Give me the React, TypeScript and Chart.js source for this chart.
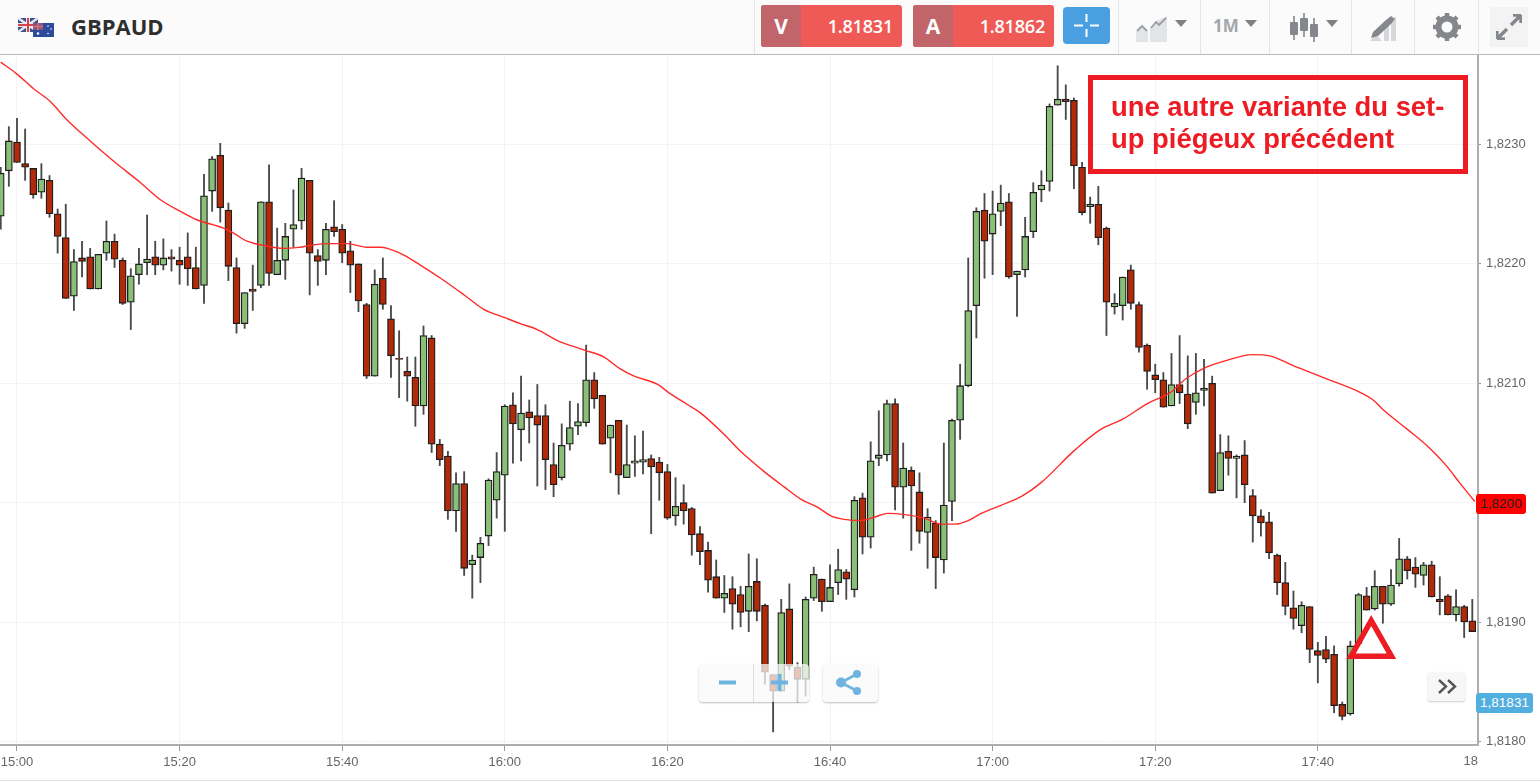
import React, { useEffect, useRef } from 'react';
import { Chart, registerables } from 'chart.js';

Chart.register(...registerables);

// one candle per minute, index 0 is two minutes before 15:00
const firstMinute = -2;

const opens = [
  1.82240, 1.82278, 1.82302, 1.82284, 1.82280, 1.82260, 1.82270, 1.82242, 1.82222, 1.82173,
  1.82205, 1.82206, 1.82179, 1.82209, 1.82219, 1.82203, 1.82168, 1.82191, 1.82201, 1.82206,
  1.82199, 1.82206, 1.82203, 1.82206, 1.82197, 1.82182, 1.82261, 1.82291, 1.82245, 1.82197,
  1.82150, 1.82179, 1.82182, 1.82252, 1.82191, 1.82203, 1.82229, 1.82236, 1.82270, 1.82207,
  1.82203, 1.82231, 1.82229, 1.82211, 1.82200, 1.82166, 1.82106, 1.82188, 1.82154, 1.82121,
  1.82110, 1.82105, 1.82081, 1.82138, 1.82049, 1.82039, 1.81993, 1.82016, 1.81948, 1.81954,
  1.81972, 1.82002, 1.82023, 1.82082, 1.82061, 1.82076, 1.82073, 1.82073, 1.82032, 1.82021,
  1.82049, 1.82064, 1.82067, 1.82103, 1.82090, 1.82054, 1.82069, 1.82021, 1.82033, 1.82034,
  1.82037, 1.82034, 1.82026, 1.81989, 1.82000, 1.81995, 1.81974, 1.81960, 1.81938, 1.81920,
  1.81928, 1.81923, 1.81909, 1.81934, 1.81914, 1.81856, 1.81842, 1.81911, 1.81862, 1.81852,
  1.81920, 1.81936, 1.81917, 1.81933, 1.81942, 1.81927, 1.82004, 1.81971, 1.82037, 1.82040,
  1.82083, 1.82013, 1.82027, 1.82009, 1.81975, 1.81983, 1.81952, 1.82001, 1.82069, 1.82098,
  1.82165, 1.82245, 1.82225, 1.82244, 1.82252, 1.82191, 1.82195, 1.82227, 1.82262, 1.82269,
  1.82333, 1.82338, 1.82337, 1.82281, 1.82248, 1.82250, 1.82230, 1.82164, 1.82165, 1.82195,
  1.82166, 1.82132, 1.82107, 1.82103, 1.82081, 1.82099, 1.82091, 1.82084, 1.82094, 1.82100,
  1.82010, 1.82043, 1.82037, 1.82040, 1.82006, 1.81989, 1.81984, 1.81956, 1.81933, 1.81912,
  1.81897, 1.81913, 1.81876, 1.81877, 1.81873, 1.81831, 1.81823, 1.81882, 1.81922, 1.81911,
  1.81930, 1.81915, 1.81932, 1.81953, 1.81946, 1.81939, 1.81948, 1.81919, 1.81922, 1.81906,
  1.81913, 1.81901,
];
const highs = [
  1.82281, 1.82315, 1.82322, 1.82313, 1.82280, 1.82284, 1.82274, 1.82246, 1.82250, 1.82212,
  1.82219, 1.82213, 1.82208, 1.82236, 1.82225, 1.82205, 1.82196, 1.82213, 1.82241, 1.82219,
  1.82221, 1.82212, 1.82214, 1.82226, 1.82214, 1.82275, 1.82290, 1.82301, 1.82251, 1.82205,
  1.82176, 1.82199, 1.82252, 1.82283, 1.82230, 1.82234, 1.82262, 1.82280, 1.82270, 1.82212,
  1.82234, 1.82253, 1.82233, 1.82219, 1.82200, 1.82167, 1.82195, 1.82205, 1.82165, 1.82144,
  1.82122, 1.82122, 1.82148, 1.82140, 1.82053, 1.82043, 1.82025, 1.82026, 1.81956, 1.81971,
  1.82020, 1.82042, 1.82082, 1.82092, 1.82106, 1.82086, 1.82099, 1.82082, 1.82050, 1.82066,
  1.82085, 1.82083, 1.82132, 1.82109, 1.82090, 1.82065, 1.82069, 1.82065, 1.82056, 1.82060,
  1.82040, 1.82038, 1.82032, 1.82021, 1.82015, 1.81996, 1.81980, 1.81967, 1.81952, 1.81939,
  1.81938, 1.81930, 1.81957, 1.81953, 1.81915, 1.81856, 1.81919, 1.81932, 1.81866, 1.81921,
  1.81946, 1.81936, 1.81948, 1.81961, 1.81944, 1.82005, 1.82008, 1.82051, 1.82077, 1.82086,
  1.82087, 1.82050, 1.82030, 1.82025, 1.81995, 1.81985, 1.82050, 1.82070, 1.82116, 1.82205,
  1.82247, 1.82259, 1.82261, 1.82266, 1.82259, 1.82194, 1.82239, 1.82268, 1.82278, 1.82334,
  1.82366, 1.82350, 1.82339, 1.82285, 1.82256, 1.82265, 1.82231, 1.82175, 1.82189, 1.82199,
  1.82168, 1.82133, 1.82116, 1.82109, 1.82125, 1.82140, 1.82123, 1.82125, 1.82120, 1.82106,
  1.82057, 1.82056, 1.82040, 1.82052, 1.82011, 1.81994, 1.81992, 1.81957, 1.81950, 1.81926,
  1.81917, 1.81913, 1.81883, 1.81888, 1.81880, 1.81833, 1.81884, 1.81924, 1.81929, 1.81943,
  1.81930, 1.81944, 1.81970, 1.81955, 1.81954, 1.81950, 1.81951, 1.81938, 1.81923, 1.81927,
  1.81914, 1.81919,
];
const lows = [
  1.82229, 1.82265, 1.82285, 1.82270, 1.82255, 1.82255, 1.82239, 1.82209, 1.82171, 1.82161,
  1.82189, 1.82179, 1.82179, 1.82203, 1.82197, 1.82166, 1.82145, 1.82183, 1.82191, 1.82191,
  1.82195, 1.82194, 1.82183, 1.82182, 1.82179, 1.82167, 1.82244, 1.82235, 1.82186, 1.82142,
  1.82146, 1.82161, 1.82180, 1.82182, 1.82191, 1.82187, 1.82214, 1.82229, 1.82174, 1.82182,
  1.82191, 1.82223, 1.82201, 1.82176, 1.82160, 1.82104, 1.82106, 1.82162, 1.82105, 1.82088,
  1.82085, 1.82064, 1.82074, 1.82042, 1.82031, 1.81986, 1.81976, 1.81939, 1.81920, 1.81933,
  1.81964, 1.81987, 1.81976, 1.82033, 1.82035, 1.82050, 1.82014, 1.82011, 1.82005, 1.82019,
  1.82044, 1.82057, 1.82064, 1.82079, 1.82049, 1.82025, 1.82007, 1.82021, 1.82022, 1.82024,
  1.81974, 1.82002, 1.81986, 1.81981, 1.81982, 1.81956, 1.81948, 1.81925, 1.81920, 1.81908,
  1.81894, 1.81896, 1.81892, 1.81901, 1.81848, 1.81808, 1.81842, 1.81860, 1.81833, 1.81838,
  1.81918, 1.81909, 1.81917, 1.81923, 1.81919, 1.81921, 1.81957, 1.81962, 1.82031, 1.82035,
  1.81994, 1.81987, 1.81960, 1.81966, 1.81945, 1.81928, 1.81941, 1.81985, 1.82053, 1.82097,
  1.82138, 1.82188, 1.82191, 1.82232, 1.82188, 1.82156, 1.82189, 1.82222, 1.82252, 1.82261,
  1.82333, 1.82321, 1.82263, 1.82241, 1.82234, 1.82216, 1.82140, 1.82158, 1.82153, 1.82162,
  1.82126, 1.82095, 1.82092, 1.82080, 1.82081, 1.82083, 1.82062, 1.82074, 1.82081, 1.82008,
  1.82010, 1.82023, 1.82004, 1.82000, 1.81967, 1.81972, 1.81953, 1.81923, 1.81906, 1.81894,
  1.81891, 1.81866, 1.81849, 1.81866, 1.81824, 1.81818, 1.81822, 1.81881, 1.81910, 1.81910,
  1.81899, 1.81914, 1.81930, 1.81936, 1.81929, 1.81931, 1.81921, 1.81906, 1.81906, 1.81901,
  1.81887, 1.81892,
];
const closes = [
  1.82276, 1.82303, 1.82285, 1.82281, 1.82258, 1.82271, 1.82242, 1.82223, 1.82171, 1.82202,
  1.82202, 1.82179, 1.82208, 1.82219, 1.82204, 1.82167, 1.82190, 1.82200, 1.82204, 1.82199,
  1.82205, 1.82204, 1.82199, 1.82196, 1.82179, 1.82257, 1.82288, 1.82247, 1.82198, 1.82150,
  1.82176, 1.82177, 1.82252, 1.82192, 1.82203, 1.82223, 1.82233, 1.82272, 1.82209, 1.82202,
  1.82229, 1.82227, 1.82209, 1.82199, 1.82169, 1.82106, 1.82183, 1.82166, 1.82123, 1.82120,
  1.82106, 1.82081, 1.82140, 1.82049, 1.82036, 1.81993, 1.82016, 1.81945, 1.81952, 1.81966,
  1.82019, 1.82026, 1.82081, 1.82066, 1.82075, 1.82071, 1.82065, 1.82036, 1.82015, 1.82048,
  1.82063, 1.82068, 1.82103, 1.82087, 1.82049, 1.82065, 1.82023, 1.82032, 1.82035, 1.82036,
  1.82030, 1.82025, 1.81987, 1.81997, 1.81993, 1.81973, 1.81959, 1.81935, 1.81920, 1.81924,
  1.81915, 1.81908, 1.81930, 1.81909, 1.81858, 1.81842, 1.81908, 1.81863, 1.81852, 1.81919,
  1.81940, 1.81917, 1.81929, 1.81944, 1.81936, 1.82002, 1.81971, 1.82035, 1.82040, 1.82083,
  1.82013, 1.82029, 1.82014, 1.81976, 1.81988, 1.81954, 1.81998, 1.82069, 1.82098, 1.82161,
  1.82244, 1.82219, 1.82242, 1.82251, 1.82189, 1.82194, 1.82223, 1.82260, 1.82266, 1.82332,
  1.82338, 1.82336, 1.82282, 1.82243, 1.82250, 1.82222, 1.82168, 1.82167, 1.82189, 1.82167,
  1.82130, 1.82110, 1.82103, 1.82080, 1.82099, 1.82092, 1.82066, 1.82092, 1.82096, 1.82008,
  1.82042, 1.82037, 1.82039, 1.82015, 1.81989, 1.81983, 1.81958, 1.81933, 1.81913, 1.81903,
  1.81914, 1.81877, 1.81872, 1.81869, 1.81830, 1.81821, 1.81880, 1.81923, 1.81910, 1.81930,
  1.81915, 1.81931, 1.81953, 1.81943, 1.81940, 1.81948, 1.81921, 1.81917, 1.81906, 1.81913,
  1.81900, 1.81892,
];

const maMinutes = [
  -2, 0, 2, 4.1, 6.1, 9, 11.9, 15.2, 17.6, 20.1, 22.1, 25.4, 26.6, 28.3, 30.7, 32.8, 34.8, 38.1, 40.6, 43,
  44.7, 47.1, 49.6, 52.1, 55, 57.4, 60, 61.9, 64, 66.4, 69.7, 72.2, 74.2, 75.9, 78.8, 80.2, 82.5, 84.1, 87, 89,
  91.9, 94.4, 96.4, 98.5, 100.1, 101.8, 103.8, 105.5, 107.1, 109.2, 111.6, 113.7, 115.3, 117, 118.6, 121.1, 123.5, 126, 130.1, 133.2,
  136, 139.3, 141.8, 143.8, 146.1, 148.7, 152, 154.1, 156.9, 160.6, 164.7, 166.8, 168, 170.9, 173.7, 175.8, 177.4, 179.3,
];
const maValues = [
  1.82369, 1.82359, 1.82347, 1.82336, 1.82321, 1.82303, 1.82286, 1.82268, 1.82254, 1.82244, 1.82237, 1.82230, 1.82226, 1.82219, 1.82215, 1.82213, 1.82214, 1.82217, 1.82217, 1.82214,
  1.82214, 1.82209, 1.82199, 1.82188, 1.82174, 1.82162, 1.82155, 1.82150, 1.82145, 1.82136, 1.82128, 1.82122, 1.82112, 1.82106, 1.82099, 1.82092, 1.82082, 1.82075, 1.82057, 1.82043,
  1.82026, 1.82013, 1.82003, 1.81996, 1.81989, 1.81986, 1.81985, 1.81988, 1.81991, 1.81990, 1.81987, 1.81982, 1.81982, 1.81985, 1.81991, 1.81998, 1.82005, 1.82017, 1.82044, 1.82061,
  1.82070, 1.82084, 1.82092, 1.82104, 1.82113, 1.82119, 1.82124, 1.82123, 1.82115, 1.82105, 1.82094, 1.82086, 1.82078, 1.82062, 1.82046, 1.82031, 1.82017, 1.82001,
];

const xTickLabels = ['15:00', '15:20', '15:40', '16:00', '16:20', '16:40', '17:00', '17:20', '17:40', '18'];

const GREEN = '#8abf78';
const RED = '#b32a08';
const AXIS_FONT = '"Liberation Sans", Arial, sans-serif';

const abs = (left: number, top: number, width: number, height: number): React.CSSProperties => ({
  position: 'absolute',
  left,
  top,
  width,
  height,
});

const Caret = ({ x }: { x: number }) => (
  <svg style={abs(x, 20, 12, 7)} viewBox="0 0 12 7">
    <path d="M0 0H12L6 7Z" fill="#7d8287" />
  </svg>
);

const PriceButton = ({ x, letter, price }: { x: number; letter: string; price: string }) => (
  <div style={{ ...abs(x, 5, 141, 42), background: '#ef5a56', borderRadius: 3, overflow: 'hidden', fontFamily: '"Open Sans", sans-serif', color: '#fff' }}>
    <div style={{ ...abs(0, 0, 40, 42), background: '#c1656a', textAlign: 'center', lineHeight: '42px', fontSize: 21, fontWeight: 700 }}>{letter}</div>
    <div style={{ ...abs(40, 0, 92, 42), textAlign: 'right', lineHeight: '42px', fontSize: 18, fontWeight: 600, letterSpacing: -0.2 }}>{price}</div>
  </div>
);

const Toolbar = () => (
  <div style={{ ...abs(0, 0, 1540, 55), background: '#fbfbfb', borderBottom: '1px solid #b9b9b9', boxSizing: 'border-box' }}>
    <svg style={abs(18, 17, 36, 20)} viewBox="0 0 36 20">
      <rect x="0" y="1" width="20" height="14" fill="#3d4f8a" />
      <path d="M0 1L20 15M20 1L0 15" stroke="#e8e8f0" strokeWidth="2.4" />
      <path d="M10 1V15M0 8H20" stroke="#e8e8f0" strokeWidth="4" />
      <path d="M10 1V15M0 8H20" stroke="#d8434a" strokeWidth="2" />
      <rect x="15" y="6" width="21" height="14" fill="#2f4a9a" />
      <rect x="15" y="6" width="10" height="7" fill="#7d5a86" />
      <path d="M20 6V13M15 9.500H25" stroke="#e06a72" strokeWidth="1.6" />
      <circle cx="20" cy="16.500" r="1.200" fill="#fff" />
      <circle cx="30" cy="9" r="0.800" fill="#fff" />
      <circle cx="33" cy="12" r="0.800" fill="#fff" />
      <circle cx="30" cy="16.500" r="0.800" fill="#fff" />
    </svg>
    <div style={{ position: 'absolute', left: 71, top: 11, fontFamily: '"Open Sans", sans-serif', fontWeight: 700, fontSize: 22, lineHeight: '30px', color: '#2e2e2e' }}>GBPAUD</div>
    {[754, 1118, 1200, 1269, 1351, 1414, 1478].map(x => (
      <div key={x} style={{ ...abs(x, 0, 1, 54), background: '#e6e6e6' }} />
    ))}
    <PriceButton x={761} letter="V" price="1.81831" />
    <PriceButton x={913} letter="A" price="1.81862" />
    <div style={{ ...abs(1063, 7, 47, 37), background: '#4a9fe0', borderRadius: 4 }}>
      <svg style={abs(0, 0, 47, 37)} viewBox="0 0 47 37">
        <path d="M23.500 7V15M23.500 22V30M11 18.500H20M27 18.500H36" stroke="#fff" strokeWidth="2" />
      </svg>
    </div>
    <svg style={abs(1136, 16, 32, 26)} viewBox="0 0 32 26">
      <path d="M0 26V16L6 10L12 15V26ZM14 26V12L22 4L31 0V26Z" fill="#e2e4e6" />
      <path d="M1 15L6 10L11 15M15 12L20 6L23 9L30 2" fill="none" stroke="#9a9ea2" strokeWidth="1.800" />
    </svg>
    <Caret x={1175} />
    <div style={{ position: 'absolute', left: 1213, top: 13, fontFamily: '"Open Sans", sans-serif', fontWeight: 700, fontSize: 17, lineHeight: '26px', color: '#a3a7ab' }}>1M</div>
    <Caret x={1245} />
    <svg style={abs(1289, 13, 30, 30)} viewBox="0 0 30 30">
      <path d="M5 3V27M15 0V24M25 5V29" stroke="#84888c" strokeWidth="1.6" />
      <rect x="1" y="9" width="8" height="13" rx="1" fill="#84888c" />
      <rect x="11" y="5" width="8" height="13" rx="1" fill="#84888c" />
      <rect x="21" y="11" width="8" height="13" rx="1" fill="#84888c" />
    </svg>
    <Caret x={1326} />
    <svg style={abs(1370, 15, 27, 27)} viewBox="0 0 27 27">
      <path d="M0 26L6 19L12 26ZM14 26V14L19 9V26ZM21 26V6L26 1V26Z" fill="#d6d8da" />
      <path d="M3 17L16 5L21 1L25 4L21 9L8 21L1 23Z" fill="#84888c" />
    </svg>
    <svg style={abs(1432, 12, 30, 30)} viewBox="0 0 30 30">
      <circle cx="15" cy="15" r="8.500" fill="none" stroke="#84888c" strokeWidth="6" />
      <path d="M15 1V6M15 24V29M1 15H6M24 15H29M5 5L8.500 8.500M21.500 21.500L25 25M25 5L21.500 8.500M8.500 21.500L5 25" stroke="#84888c" strokeWidth="4.500" />
    </svg>
    <div style={{ ...abs(1490, 7, 38, 40), background: '#f3f3f3' }}>
      <svg style={abs(6, 7, 26, 26)} viewBox="0 0 26 26">
        <path d="M15 11L25 1M25 1H17M25 1V9M11 15L1 25M1 25H9M1 25V17" fill="none" stroke="#84888c" strokeWidth="3.400" />
      </svg>
    </div>
  </div>
);

const Overlays = () => (
  <>
    <div style={{ ...abs(1088, 75, 380, 99), border: '5px solid #ed1c24', boxSizing: 'border-box' }} />
    <div style={{ position: 'absolute', left: 1111, top: 91, fontFamily: '"Liberation Sans", Arial, sans-serif', fontWeight: 700, fontSize: 27.4, lineHeight: '32px', color: '#ed1c24', whiteSpace: 'nowrap' }}>
      une autre variante du set-
      <br />
      up piégeux précédent
    </div>
    <svg style={abs(1340, 610, 62, 54)} viewBox="1340 610 62 54">
      <polygon points="1371.200,620.500 1351,656.300 1391.500,656.300" fill="none" stroke="#ed1c24" strokeWidth="5.500" />
    </svg>
    <div style={{ ...abs(699, 664, 110, 38), background: 'rgba(250,250,250,0.75)', borderRadius: 4, boxShadow: '0 1px 2px rgba(0,0,0,0.25)' }}>
      <div style={{ ...abs(54, 0, 1, 38), background: '#dddddd' }} />
      <svg style={abs(0, 0, 110, 38)} viewBox="0 0 110 38">
        <path d="M20 18.500H37M72 18.500H89M80.500 10V27" stroke="#6fb4df" strokeWidth="4" />
      </svg>
    </div>
    <div style={{ ...abs(823, 664, 55, 38), background: 'rgba(250,250,250,0.75)', borderRadius: 4, boxShadow: '0 1px 2px rgba(0,0,0,0.25)' }}>
      <svg style={abs(0, 0, 55, 38)} viewBox="0 0 55 38">
        <path d="M18 18.500L34 10M18 18.500L34 27" stroke="#6fb4df" strokeWidth="2.600" />
        <circle cx="18" cy="18.500" r="5" fill="#6fb4df" />
        <circle cx="34" cy="10" r="4" fill="#6fb4df" />
        <circle cx="34" cy="27" r="4" fill="#6fb4df" />
      </svg>
    </div>
    <div style={{ ...abs(1428, 672, 37, 29), background: '#f7f7f7', borderRadius: 3, boxShadow: '0 1px 2px rgba(0,0,0,0.2)' }}>
      <svg style={abs(0, 0, 37, 29)} viewBox="0 0 37 29">
        <path d="M11 8L18 14.500L11 21M20 8L27 14.500L20 21" fill="none" stroke="#555" strokeWidth="2.400" />
      </svg>
    </div>
    <div style={{ ...abs(1476, 494, 50, 20), background: '#ff0000', borderRadius: 3, textAlign: 'center', font: `13.5px/20px ${AXIS_FONT}`, color: '#222' }}>1,8200</div>
    <div style={{ ...abs(1476, 693, 57, 20), background: '#53aee0', borderRadius: 3, textAlign: 'center', font: `13.5px/20px ${AXIS_FONT}`, color: '#fff' }}>1,81831</div>
    <div style={{ position: 'absolute', right: 62, top: 753, font: `13px/16px ${AXIS_FONT}`, color: '#666' }}>{xTickLabels[9]}</div>
    <div style={{ ...abs(0, 780, 1540, 1), background: '#dedede' }} />
  </>
);

export default function App() {
  const chartRef = useRef<HTMLCanvasElement>(null);

  useEffect(() => {
    if (!chartRef.current) return;

    const minutes = opens.map((_, i) => i + firstMinute);

    const chart = new Chart(chartRef.current, {
      type: 'bar',
      data: {
        datasets: [
          {
            type: 'line',
            data: maMinutes.map((m, i) => ({ x: m, y: maValues[i] })),
            borderColor: '#ff2a2a',
            borderWidth: 1.4,
            pointRadius: 0,
            cubicInterpolationMode: 'monotone',
            order: 0,
          },
          {
            data: minutes.map((m, i) => ({ x: m, y: [opens[i], closes[i]] })),
            backgroundColor: opens.map((o, i) => (closes[i] > o ? GREEN : RED)),
            borderColor: '#1e1e1e',
            borderWidth: 1.3,
            borderSkipped: false,
            barThickness: 7,
            grouped: false,
            order: 1,
          },
          {
            data: minutes.map((m, i) => ({ x: m, y: [lows[i], highs[i]] })),
            backgroundColor: '#4a4a4a',
            barThickness: 1.2,
            grouped: false,
            order: 2,
          },
        ],
      } as any,
      options: {
        responsive: false,
        animation: false,
        devicePixelRatio: 1,
        events: [],
        layout: { padding: { top: 55, left: 0, right: 0, bottom: 0 } },
        plugins: { legend: { display: false }, tooltip: { enabled: false } },
        scales: {
          x: {
            type: 'linear',
            offset: false,
            min: -2.09,
            max: 179.7,
            afterFit: (scale: any) => {
              scale.height = 36;
              scale.paddingLeft = 0;
              scale.paddingRight = 0;
            },
            grid: { offset: false, color: '#f3f3f3', tickColor: '#999999', tickLength: 6 },
            border: { display: true, color: '#adadad', width: 2 },
            ticks: {
              stepSize: 20,
              includeBounds: false,
              autoSkip: false,
              maxRotation: 0,
              padding: 4,
              color: '#666666',
              font: { family: AXIS_FONT, size: 13 },
              callback: (value: any) => xTickLabels[Math.round(Number(value) / 20)],
            },
          },
          y: {
            type: 'linear',
            position: 'right',
            beginAtZero: false,
            min: 1.81797,
            max: 1.82375,
            afterFit: (scale: any) => {
              scale.width = 62;
              scale.paddingTop = 0;
              scale.paddingBottom = 0;
            },
            grid: { color: '#f3f3f3', tickColor: '#999999', tickLength: 3 },
            border: { display: true, color: '#adadad', width: 2 },
            ticks: {
              stepSize: 0.001,
              includeBounds: false,
              padding: 5,
              color: '#666666',
              font: { family: AXIS_FONT, size: 13 },
              callback: (value: any) => Number(value).toFixed(4).replace('.', ','),
            },
          },
        },
      } as any,
    });

    return () => {
      chart.destroy();
    };
  }, []);

  return (
    <div style={{ position: 'fixed', left: 0, top: 0, width: 1540, height: 781, background: '#fff', overflow: 'hidden' }}>
      <canvas ref={chartRef} width={1540} height={781} style={{ position: 'absolute', left: 0, top: 0 }} />
      <Toolbar />
      <Overlays />
    </div>
  );
}
